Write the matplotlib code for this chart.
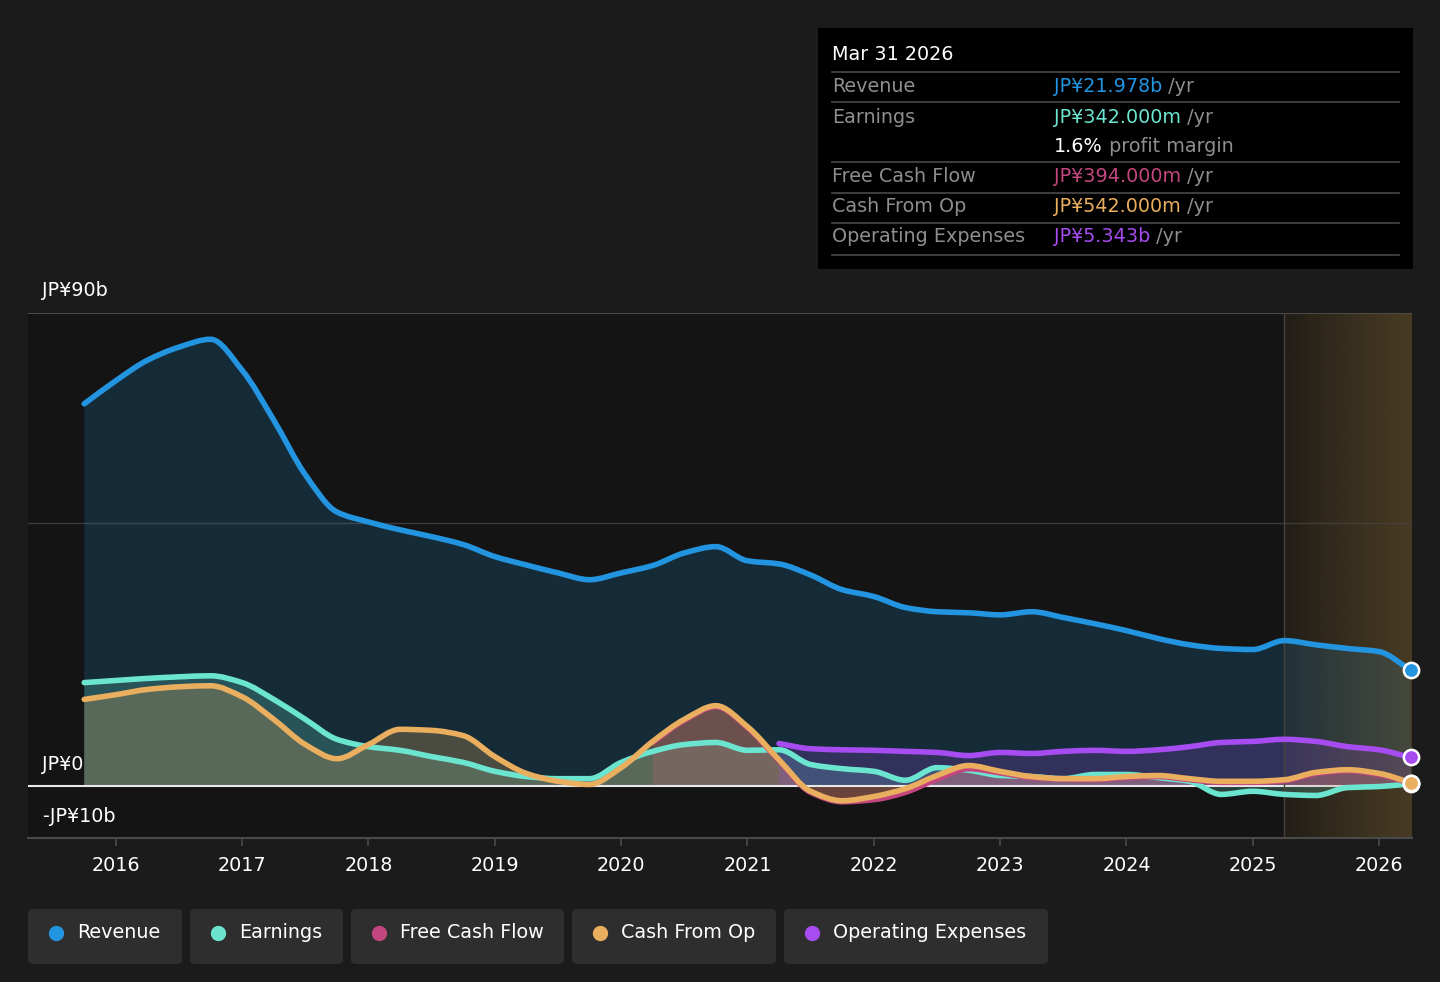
import matplotlib as mpl
import matplotlib.pyplot as plt
from matplotlib.patches import FancyBboxPatch, Rectangle, PathPatch
from matplotlib.path import Path
from matplotlib.lines import Line2D
import numpy as np

# quarterly dates (fraction of year)
t_all = np.arange(2015.75, 2026.26, 0.25)

revenue = [72.7, 77.1, 81.0, 83.5, 85.0, 79.1, 69.6, 59.2, 52.1, 50.2, 48.7, 47.4,
           45.9, 43.6, 42.0, 40.5, 39.2, 40.5, 41.9, 44.3, 45.5, 42.8, 42.2, 40.1,
           37.3, 36.0, 33.9, 33.1, 32.9, 32.5, 33.1, 32.0, 30.8, 29.5, 28.0, 26.8,
           26.1, 25.9, 27.6, 26.8, 26.1, 25.5, 21.978]
earnings = [19.6, 20.0, 20.4, 20.7, 20.9, 19.6, 16.4, 12.6, 8.8, 7.4, 6.7, 5.5,
            4.4, 2.7, 1.7, 1.3, 1.3, 4.4, 6.5, 7.8, 8.2, 6.7, 6.8, 4.0,
            3.2, 2.7, 1.0, 3.4, 2.9, 1.9, 1.7, 1.3, 2.1, 2.1, 1.5, 0.8,
            -1.7, -1.1, -1.7, -1.9, -0.4, -0.2, 0.342]
cash_op = [16.4, 17.3, 18.3, 18.8, 19.0, 16.9, 12.6, 7.8, 5.1, 7.8, 10.7, 10.5,
           9.5, 5.5, 2.3, 0.8, 0.2, 3.4, 8.4, 12.6, 15.2, 11.2, 4.9, -1.1,
           -2.9, -2.1, -0.6, 1.9, 3.8, 2.7, 1.7, 1.3, 1.3, 1.7, 1.9, 1.3,
           0.8, 0.8, 1.1, 2.5, 3.0, 2.3, 0.542]
# free cash flow from 2020.25
fcf = [8.2, 12.4, 15.0, 11.0, 4.7, -1.3, -3.1, -2.7, -1.3, 1.2, 3.2, 2.4,
       1.5, 1.2, 1.1, 1.5, 1.7, 1.1, 0.6, 0.6, 0.9, 2.3, 2.8, 2.1, 0.394]
# operating expenses from 2021.25
opex = [8.0, 7.0, 6.8, 6.7, 6.5, 6.3, 5.7, 6.3, 6.1, 6.5, 6.7, 6.5,
        6.8, 7.4, 8.2, 8.4, 8.8, 8.4, 7.4, 6.8, 5.343]

t_fcf = t_all[-len(fcf):]
t_opex = t_all[-len(opex):]

years = list(range(2016, 2027))
forecast_start = 2025.25

C_REV = '#2394df'
C_EARN = '#6ce5d0'
C_FCF = '#c4467f'
C_CFO = '#e9ae5e'
C_OPEX = '#a64cf0'
BG = '#1b1b1b'

mpl.rcParams['font.family'] = 'DejaVu Sans'

W, H = 1440, 982
fig = plt.figure(figsize=(W / 100, H / 100), dpi=100, facecolor=BG)


def fx(x):
    return x / W


def fy(y):
    return 1 - y / H


def smooth_path(x, y, close=False):
    # monotone cubic (Fritsch-Carlson) as bezier segments
    x = np.asarray(x, float)
    y = np.asarray(y, float)
    h = np.diff(x)
    d = np.diff(y) / h
    m = np.zeros_like(y)
    m[0], m[-1] = d[0], d[-1]
    for i in range(1, len(y) - 1):
        if d[i - 1] * d[i] <= 0:
            m[i] = 0
        else:
            m[i] = 3 * (h[i - 1] + h[i]) / ((2 * h[i] + h[i - 1]) / d[i - 1] + (h[i] + 2 * h[i - 1]) / d[i])
    verts = [(x[0], y[0])]
    codes = [Path.MOVETO]
    for i in range(len(x) - 1):
        verts += [(x[i] + h[i] / 3, y[i] + m[i] * h[i] / 3),
                  (x[i + 1] - h[i] / 3, y[i + 1] - m[i + 1] * h[i] / 3),
                  (x[i + 1], y[i + 1])]
        codes += [Path.CURVE4] * 3
    if close:
        verts += [(x[-1], 0), (x[0], 0), (x[0], y[0])]
        codes += [Path.LINETO, Path.LINETO, Path.CLOSEPOLY]
    return Path(verts, codes)


def draw_series(x, y, color, fill_alpha, z):
    ax.add_patch(PathPatch(smooth_path(x, y, close=True), facecolor=color,
                           alpha=fill_alpha, lw=0, zorder=1 + z / 10))
    ax.add_patch(PathPatch(smooth_path(x, y), facecolor='none', edgecolor=color,
                           lw=4, capstyle='round', joinstyle='round', zorder=3 + z / 10))


ax = fig.add_axes([fx(28), fy(838), fx(1412) - fx(28), fy(313) - fy(838)])
ax.set_facecolor('#141414')
ax.set_xlim(2015.305, 2026.26)
ax.set_ylim(-10, 90)

# forecast shaded area: dark base plus a translucent warm overlay above the fills
grad = np.linspace(0, 1, 100).reshape(1, -1)
cmap = mpl.colors.LinearSegmentedColormap.from_list('fc', ['#1e1b16', '#3a311f'])
ax.imshow(grad, extent=[forecast_start, 2026.26, -10, 90], aspect='auto',
          cmap=cmap, zorder=0.5)
overlay = np.zeros((1, 100, 4))
overlay[..., :3] = mpl.colors.to_rgb('#6b5530')
overlay[..., 3] = np.linspace(0.05, 0.3, 100)
ax.imshow(overlay, extent=[forecast_start, 2026.26, -10, 90], aspect='auto', zorder=2.5)
ax.axvline(forecast_start, color='#4a4538', lw=1, zorder=2.6)

# grid lines
ax.axhline(50, color='#3a3a3a', lw=1, zorder=0.7)
ax.axhline(90, color='#4a4a4a', lw=1.5, zorder=0.7)

draw_series(t_all, revenue, C_REV, 0.18, 0)
draw_series(t_all, earnings, C_EARN, 0.22, 1)
draw_series(t_fcf, fcf, C_FCF, 0.25, 2)
draw_series(t_all, cash_op, C_CFO, 0.25, 3)
draw_series(t_opex, opex, C_OPEX, 0.2, 4)

ax.axhline(0, color='#e8e8e8', lw=1.5, zorder=2)

# end markers
for val, c in [(revenue[-1], C_REV), (earnings[-1], C_EARN), (fcf[-1], C_FCF),
               (cash_op[-1], C_CFO), (opex[-1], C_OPEX)]:
    ax.plot([t_all[-1]], [val], 'o', ms=11, mfc=c, mec='white', mew=1.8,
            zorder=4, clip_on=False)

# axes styling
for s in ['top', 'right', 'left']:
    ax.spines[s].set_visible(False)
ax.spines['bottom'].set_color('#4a4a4a')
ax.spines['bottom'].set_linewidth(1.5)
ax.set_yticks([])
ax.set_xticks(years)
ax.set_xticklabels([str(y) for y in years])
ax.tick_params(axis='x', colors='#4a4a4a', labelcolor='white', labelsize=13.8,
               length=6, width=1.2, pad=7)

# y labels
for txt, ypix in [('JP¥90b', 291), ('JP¥0', 765), ('-JP¥10b', 817)]:
    fig.text(fx(42), fy(ypix), txt, color='white', fontsize=13.8, va='center', ha='left')

# tooltip box
fig.patches.append(Rectangle((fx(818), fy(269)), fx(1413) - fx(818), fy(28) - fy(269),
                             transform=fig.transFigure, facecolor='black', edgecolor='none'))
fig.text(fx(832), fy(55), 'Mar 31 2026', color='white', fontsize=13.8, va='center')
for ypix in [72, 102, 162, 193, 223, 255]:
    fig.lines.append(Line2D([fx(832), fx(1399)], [fy(ypix), fy(ypix)],
                            transform=fig.transFigure, color='#4a4a4a', lw=1.2))
rows = [(87, 'Revenue', 'JP¥21.978b', C_REV, ' /yr'),
        (117, 'Earnings', 'JP¥342.000m', C_EARN, ' /yr'),
        (176, 'Free Cash Flow', 'JP¥394.000m', C_FCF, ' /yr'),
        (207, 'Cash From Op', 'JP¥542.000m', C_CFO, ' /yr'),
        (237, 'Operating Expenses', 'JP¥5.343b', C_OPEX, ' /yr')]
renderer = fig.canvas.get_renderer()
for ypix, label, value, c, suffix in rows:
    fig.text(fx(832), fy(ypix), label, color='#8e8e8e', fontsize=13.8, va='center')
    t = fig.text(fx(1054), fy(ypix), value, color=c, fontsize=13.8, va='center')
    bb = t.get_window_extent(renderer)
    fig.text(bb.x1 / fig.dpi / fig.get_figwidth(), fy(ypix), suffix, color='#8e8e8e',
             fontsize=13.8, va='center')
t = fig.text(fx(1054), fy(146), '1.6%', color='white', fontsize=13.8, va='center')
bb = t.get_window_extent(renderer)
fig.text(bb.x1 / fig.dpi / fig.get_figwidth(), fy(146), ' profit margin', color='#8e8e8e',
         fontsize=13.8, va='center')

# legend buttons
legend = [('Revenue', C_REV, 28, 182), ('Earnings', C_EARN, 190, 343),
          ('Free Cash Flow', C_FCF, 351, 564), ('Cash From Op', C_CFO, 572, 776),
          ('Operating Expenses', C_OPEX, 784, 1048)]
for name, c, x0, x1 in legend:
    fig.patches.append(FancyBboxPatch((fx(x0), fy(964)), fx(x1) - fx(x0), fy(909) - fy(964),
                                      boxstyle='round,pad=0,rounding_size=0.004',
                                      transform=fig.transFigure, facecolor='#2e2e2e',
                                      edgecolor='none'))
    fig.lines.append(Line2D([fx(x0 + 28)], [fy(933)], transform=fig.transFigure, marker='o',
                            ms=10, mfc=c, mec=c, ls=''))
    fig.text(fx(x0 + 49), fy(933), name, color='white', fontsize=13.8, va='center')

fig.savefig('out.png', dpi=100, facecolor=BG)
